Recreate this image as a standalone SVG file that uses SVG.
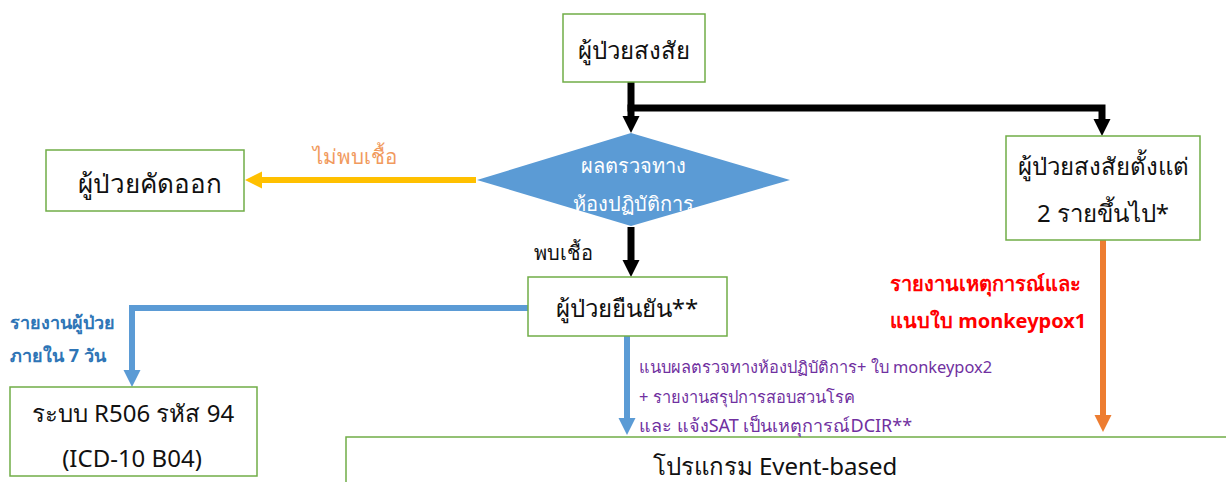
<svg xmlns="http://www.w3.org/2000/svg" width="1226" height="482" viewBox="0 0 1226 482">
<defs>
<style>
.box{fill:#fff;stroke:#70AD47;stroke-width:1.5}
.t{font-family:"Noto Sans","DejaVu Sans",sans-serif;fill:#111;text-anchor:middle}
.big{font-size:24px}
.lbl{font-family:"Noto Sans","DejaVu Sans",sans-serif}
</style>
<marker id="ak" markerUnits="userSpaceOnUse" markerWidth="18" markerHeight="18" refX="7" refY="8.5" orient="auto"><path d="M0,0 L17,8.5 L0,17 z" fill="#000"/></marker>
<marker id="ay" markerUnits="userSpaceOnUse" markerWidth="18" markerHeight="18" refX="7" refY="8.5" orient="auto"><path d="M0,0 L17,8.5 L0,17 z" fill="#FFC000"/></marker>
<marker id="ab" markerUnits="userSpaceOnUse" markerWidth="18" markerHeight="18" refX="7" refY="8.5" orient="auto"><path d="M0,0 L17,8.5 L0,17 z" fill="#5B9BD5"/></marker>
<marker id="ao" markerUnits="userSpaceOnUse" markerWidth="18" markerHeight="18" refX="7" refY="8.5" orient="auto"><path d="M0,0 L17,8.5 L0,17 z" fill="#ED7D31"/></marker>
</defs>
<rect width="1226" height="482" fill="#fff"/>
<g id="connectors" fill="none">
<path d="M631,82 V123" stroke="#000" stroke-width="7" marker-end="url(#ak)"/>
<path d="M627.5,108 H1102 V126" stroke="#000" stroke-width="7" marker-end="url(#ak)"/>
<path d="M476,180 H255" stroke="#FFC000" stroke-width="6" marker-end="url(#ay)"/>
<path d="M631,227 V267" stroke="#000" stroke-width="7" marker-end="url(#ak)"/>
<path d="M528,308 H132 V377" stroke="#5B9BD5" stroke-width="6" marker-end="url(#ab)"/>
<path d="M627,336 V425" stroke="#5B9BD5" stroke-width="6" marker-end="url(#ab)"/>
<path d="M1103,240 V422" stroke="#ED7D31" stroke-width="6" marker-end="url(#ao)"/>
</g>
<g id="n1"><rect class="box" x="563" y="14" width="142" height="68"/><text class="t big" x="634" y="59">ผู้ป่วยสงสัย</text></g>
<g id="n2"><path d="M631,133 L790,180 L631,226 L477,180 z" fill="#5B9BD5"/><text class="t" x="633" y="173" font-size="20" style="fill:#fff">ผลตรวจทาง</text><text class="t" x="633" y="211" font-size="20" style="fill:#fff">ห้องปฏิบัติการ</text></g>
<g id="n3"><rect class="box" x="46" y="150" width="198" height="61"/><text class="t" font-size="26" x="150" y="193">ผู้ป่วยคัดออก</text></g>
<g id="n4"><rect class="box" x="1006" y="136" width="194" height="104"/><text class="t big" x="1103" y="175">ผู้ป่วยสงสัยตั้งแต่</text><text class="t big" x="1103" y="222">2 รายขึ้นไป*</text></g>
<g id="n5"><rect class="box" x="528" y="277" width="199" height="59"/><text class="t big" x="627" y="317">ผู้ป่วยยืนยัน**</text></g>
<g id="n6"><rect class="box" x="10" y="387" width="247" height="89"/><text class="t big" x="133" y="422">ระบบ R506 รหัส 94</text><text class="t big" x="132" y="467">(ICD-10 B04)</text></g>
<g id="n7"><rect class="box" x="346" y="437" width="884" height="60"/><text class="t big" x="775" y="475">โปรแกรม Event-based</text></g>
<g id="labels" class="lbl">
<text x="355" y="164" font-size="20.5" fill="#F19A5E" text-anchor="middle">ไม่พบเชื้อ</text>
<text x="563" y="260" font-size="20" fill="#111" text-anchor="middle">พบเชื้อ</text>
<text x="10" y="329" font-size="18" font-weight="bold" fill="#2E75B6">รายงานผู้ป่วย</text>
<text x="10" y="362" font-size="18" font-weight="bold" fill="#2E75B6">ภายใน 7 วัน</text>
<text x="890" y="291" font-size="20" font-weight="bold" fill="#FF0000">รายงานเหตุการณ์และ</text>
<text x="890" y="328" font-size="20" font-weight="bold" fill="#FF0000">แนบใบ monkeypox1</text>
<text x="639" y="373" font-size="16.4" fill="#7030A0">แนบผลตรวจทางห้องปฏิบัติการ+ ใบ monkeypox2</text>
<text x="639" y="403" font-size="16.4" fill="#7030A0">+ รายงานสรุปการสอบสวนโรค</text>
<text x="639" y="432" font-size="18" fill="#7030A0">และ แจ้งSAT เป็นเหตุการณ์DCIR**</text>
</g>
</svg>
